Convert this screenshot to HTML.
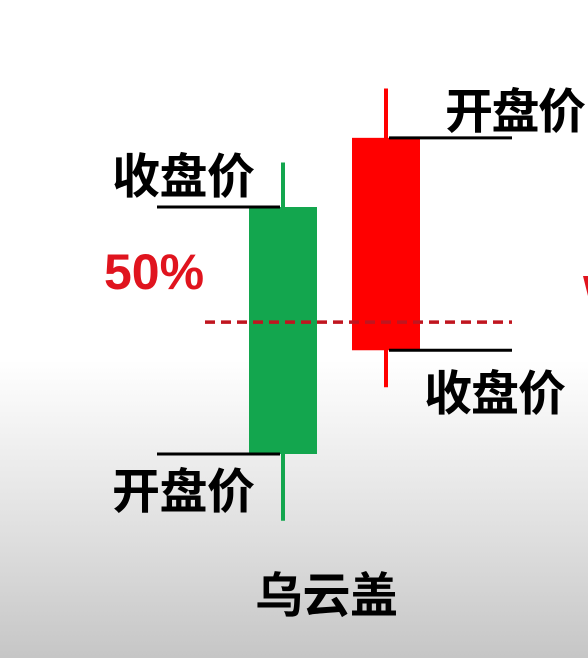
<!DOCTYPE html>
<html><head><meta charset="utf-8"><style>
html,body{margin:0;padding:0}
body{width:588px;height:658px;overflow:hidden;background:linear-gradient(to bottom,#ffffff 0px,#ffffff 360px,#dedede 540px,#c6c6c6 658px)}
svg{display:block}
text{font-family:"Liberation Sans","Noto Sans CJK SC",sans-serif;font-weight:bold}
</style></head><body>
<svg id="chart" width="588" height="658" viewBox="0 0 588 658">
<g id="marks"></g>
<text x="112" y="193" font-size="48" textLength="143" fill="#000">收盘价</text>
<text x="112" y="508" font-size="48" textLength="143" fill="#000">开盘价</text>
<text x="445" y="128" font-size="48" textLength="141" fill="#000">开盘价</text>
<text x="424" y="410" font-size="48" textLength="142" fill="#000">收盘价</text>
<text x="104" y="289" font-size="50" fill="#e0141e">50%</text>
<text x="255" y="612" font-size="48" textLength="143" fill="#000">乌云盖</text>
<polygon points="583,276 588,276 588,296" fill="#e0141e"/>
</svg>
<script>
const candleNames = ["green", "red"];
const openVals = [0, 128];
const closeVals = [100, 42];
const highVals = [118, 148];
const lowVals = [-27, 27];
const fiftyLevel = [53.4];

const NS = "http://www.w3.org/2000/svg";
const y = p => 454 - p * 2.47;
const xCenter = i => 283 + i * 103;
const colors = ["#13a64e", "#ff0000"];
const g = document.getElementById("marks");
function mk(tag, attrs){const e=document.createElementNS(NS,tag);for(const k in attrs)e.setAttribute(k,attrs[k]);g.appendChild(e);return e;}

for (let i = 0; i < candleNames.length; i++) {
  const cx = xCenter(i);
  const w = mk("line",{x1:cx,x2:cx,y1:y(highVals[i]),y2:y(lowVals[i]),stroke:colors[i],"stroke-width":4});
  
  
  const top = Math.min(y(openVals[i]), y(closeVals[i]));
  const h = Math.abs(y(openVals[i]) - y(closeVals[i]));
  const b = mk("rect",{x:cx-34,y:top,width:68,height:h,fill:colors[i]});
  
  
  const lx1 = i === 0 ? cx - 126 : cx + 3;
  const lx2 = i === 0 ? cx - 3 : cx + 126;
  const lo = mk("line",{x1:lx1,x2:lx2,y1:y(openVals[i]),y2:y(openVals[i]),stroke:"#000","stroke-width":3});
  
  
  const lc = mk("line",{x1:lx1,x2:lx2,y1:y(closeVals[i]),y2:y(closeVals[i]),stroke:"#000","stroke-width":3});
  
  
}
const d = mk("line",{x1:205,x2:512,y1:y(fiftyLevel[0]),y2:y(fiftyLevel[0]),stroke:"#c0151f","stroke-width":3.5,"stroke-dasharray":"10,6"});


</script>
</body></html>
